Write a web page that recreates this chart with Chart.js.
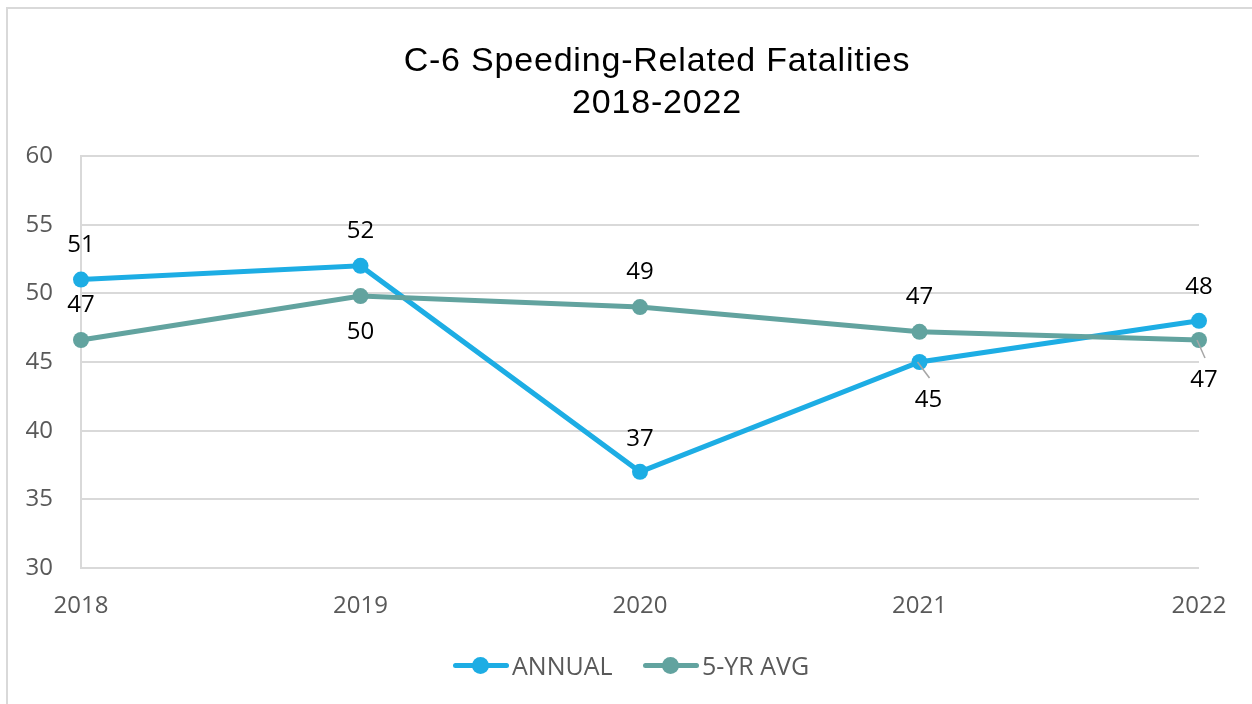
<!DOCTYPE html>
<html>
<head>
<meta charset="utf-8">
<script src="https://cdn.jsdelivr.net/npm/chart.js@4/dist/chart.umd.min.js"></script>
<style>
  html, body { margin: 0; padding: 0; background: #fff; }
  #wrap { position: relative; width: 1252px; height: 704px; overflow: hidden; }
  #frame { position: absolute; left: 6px; top: 7px; width: 1400px; height: 900px;
           border-left: 2px solid #d9d9d9; border-top: 2px solid #d9d9d9; }
  #c { position: absolute; left: 0; top: 0; }
  #title { position: absolute; left: 307px; top: 38px; width: 700px; text-align: center;
           font-family: "Liberation Sans", Arial, sans-serif; font-size: 34px; line-height: 42px;
           letter-spacing: 0.8px; color: #000; }
  #legend { position: absolute; left: 0; top: 648px; width: 1252px; height: 34px; }
  .item { position: absolute; top: 0; height: 34px; }
  .ln { position: absolute; top: 15px; width: 56px; height: 5px; border-radius: 3px; }
  .dot { position: absolute; top: 9px; width: 17px; height: 17px; border-radius: 50%; }
  .txt { position: absolute; top: 0; font-family: "Open Sans", sans-serif; font-size: 25px; line-height: 34px; color: #595959; white-space: nowrap; }
</style>
</head>
<body>
<div id="wrap">
  <div id="frame"></div>
  <canvas id="c" width="1252" height="704"></canvas>
  <div id="title">C-6 Speeding-Related Fatalities<br>2018-2022</div>
  <div id="legend"></div>
</div>
<script>
// ---- data ----
const categories = ['2018', '2019', '2020', '2021', '2022'];
const annual = [51, 52, 37, 45, 48];
const fiveYrAvg = [46.6, 49.8, 49.0, 47.2, 46.6];
const seriesNames = ['ANNUAL', '5-YR AVG'];
const yTicks = { min: 30, max: 60, step: 5 };

// ---- style ----
const colors = ['#1DADE4', '#62A39F'];
// label placement per point: [dx, dy, leader]
const annualLabelPlace = [[0,-34,false],[0,-35,false],[0,-33,false],[9,38,true],[0,-34,false]];
const avgLabelPlace    = [[0,-35,false],[0,36,false],[0,-35,false],[0,-35,false],[5,40,true]];
const labelPlaces = [annualLabelPlace, avgLabelPlace];

const dataLabels = {
  id: 'dataLabels',
  afterDatasetsDraw(chart) {
    const ctx = chart.ctx;
    ctx.save();
    ctx.font = '24px "Open Sans", sans-serif';
    ctx.fillStyle = '#000';
    ctx.textAlign = 'center';
    ctx.textBaseline = 'middle';
    chart.data.datasets.forEach((ds, di) => {
      const meta = chart.getDatasetMeta(di);
      meta.data.forEach((pt, i) => {
        const [dx, dy, leader] = labelPlaces[di][i];
        const tx = pt.x + dx, ty = pt.y + dy;
        if (leader) {
          ctx.strokeStyle = '#a6a6a6';
          ctx.lineWidth = 1.5;
          ctx.beginPath();
          ctx.moveTo(pt.x - 2, pt.y);
          ctx.lineTo(tx + 1, ty - 22);
          ctx.stroke();
        }
        ctx.fillText(String(Math.round(ds.data[i])), tx, ty);
      });
    });
    ctx.restore();
  }
};

const values = [annual, fiveYrAvg];
new Chart(document.getElementById('c'), {
  type: 'line',
  data: {
    labels: categories,
    datasets: values.map((v, i) => ({
      label: seriesNames[i],
      data: v,
      borderColor: colors[i],
      backgroundColor: colors[i],
      pointBackgroundColor: colors[i],
      pointBorderColor: colors[i],
      borderWidth: 5,
      pointRadius: 8,
      pointBorderWidth: 0,
      tension: 0,
      clip: false,
      order: 1 - i
    }))
  },
  options: {
    responsive: false,
    animation: false,
    devicePixelRatio: 1,
    layout: { padding: { top: 156, left: 0, right: 53, bottom: 76 } },
    plugins: { legend: { display: false }, title: { display: false }, tooltip: { enabled: false } },
    scales: {
      x: {
        type: 'category',
        offset: false,
        grid: { display: false, drawTicks: false },
        border: { display: false },
        ticks: { color: '#595959', font: { family: 'Open Sans', size: 24 }, padding: 24, maxRotation: 0, autoSkip: false },
        afterFit(s) { s.height = 60; }
      },
      y: {
        min: yTicks.min, max: yTicks.max,
        grid: { color: '#d9d9d9', lineWidth: 2, drawTicks: false },
        border: { display: true, color: '#d9d9d9', width: 2 },
        ticks: { stepSize: yTicks.step, color: '#595959', font: { family: 'Open Sans', size: 24 }, padding: 28 },
        afterFit(s) { s.width = 81; }
      }
    }
  },
  plugins: [dataLabels]
});

// ---- HTML legend ----
const legendPos = [453, 643];
const leg = document.getElementById('legend');
seriesNames.forEach((n, i) => {
  const it = document.createElement('div');
  it.className = 'item';
  it.style.left = legendPos[i] + 'px';
  it.innerHTML = '<div class="ln" style="left:0;background:' + colors[i] + '"></div>' +
                 '<div class="dot" style="left:19px;background:' + colors[i] + '"></div>' +
                 '<div class="txt" style="left:59px">' + n + '</div>';
  leg.appendChild(it);
});
</script>
</body>
</html>
